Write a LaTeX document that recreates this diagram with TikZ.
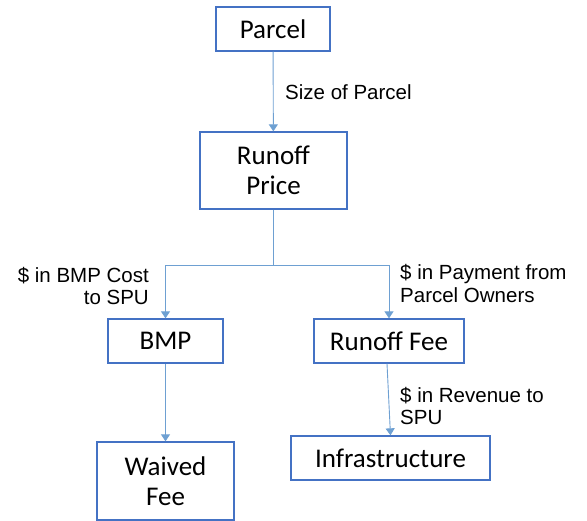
\documentclass[tikz,border=0pt]{standalone}
\usepackage{fontspec}
\setmainfont{Carlito}
\newfontfamily\labelfont{Liberation Sans}
\usetikzlibrary{positioning, arrows.meta}
\definecolor{boxblue}{RGB}{68,114,196}
\definecolor{lineblue}{RGB}{110,160,210}

\begin{document}
\begin{tikzpicture}[x=1pt, y=-1pt,
    box/.style={draw=boxblue, line width=1.3pt, fill=white, align=center, inner sep=0pt,
        font=\fontsize{27}{30}\selectfont},
    flow/.style={draw=lineblue, line width=0.9pt, -{Triangle[width=9pt, length=7pt]}},
    tag/.style={inner sep=0pt, font=\labelfont\fontsize{20.5}{22.5}\selectfont}]
\useasboundingbox (0,0) rectangle (587,521);
% boxes
\node[box, minimum width=114pt, minimum height=44pt] (parcel) at (273,29) {Parcel};
\node[box, minimum width=147pt, minimum height=77pt] (price) at (273.5,170.5) {Runoff\\Price};
\node[box, minimum width=115pt, minimum height=44pt] (bmp) at (165.5,341) {BMP};
\node[box, minimum width=150pt, minimum height=44pt] (fee) at (389,341) {Runoff Fee};
\node[box, minimum width=137pt, minimum height=78pt] (waived) at (165.5,481) {Waived\\Fee};
\node[box, minimum width=199pt, minimum height=44pt] (infra) at (390.5,458) {Infrastructure};
\coordinate (split) at (273.5,265);
% connectors
\draw[flow] (parcel) -- (price);
\draw[draw=lineblue, line width=0.9pt] (price.south) -- (split);
\draw[flow] (split) -| (bmp.north);
\draw[flow] (split) -| (fee.north);
\draw[flow] (bmp) -- (waived);
\draw[flow] ([xshift=-2pt]fee.south) -- (infra.north);
% labels
\node[tag, anchor=west] (sizelbl) at (285,92) {Size of Parcel};
\node[tag, anchor=east, align=right] (costlbl) at (149,286) {\$ in BMP Cost\\to SPU};
\node[tag, anchor=west, align=left] (paylbl) at (400,283.5) {\$ in Payment from\\Parcel Owners};
\node[tag, anchor=west, align=left] (revlbl) at (400,406) {\$ in Revenue to\\SPU};
\end{tikzpicture}
\end{document}
